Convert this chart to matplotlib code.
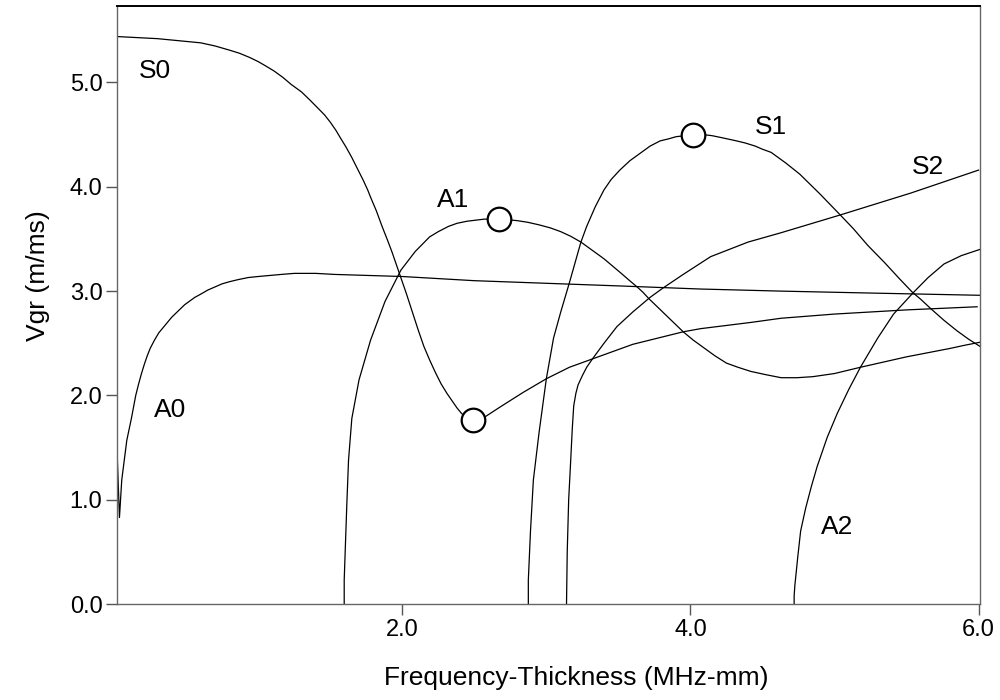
import matplotlib
matplotlib.use("Agg")
import matplotlib.pyplot as plt

plt.rcParams['font.family'] = ['Liberation Sans', 'DejaVu Sans']

# Lamb-wave group velocity dispersion curves (frequency-thickness in MHz-mm, Vgr in m/ms)
s0_fd = [0.02, 0.30, 0.45, 0.60, 0.70, 0.80, 0.87, 0.94, 1.00, 1.05, 1.11, 1.17, 1.23, 1.30,
         1.36, 1.41, 1.46, 1.50, 1.54, 1.57, 1.61, 1.65, 1.69, 1.73, 1.76, 1.78, 1.82, 1.86,
         1.90, 1.93, 1.96, 1.99, 2.03, 2.07, 2.11, 2.15, 2.19, 2.23, 2.27, 2.31, 2.35, 2.38,
         2.41, 2.44, 2.47, 2.49, 2.53, 2.58, 2.68, 2.84, 3.00, 3.16, 3.32, 3.60, 3.95, 4.07,
         4.42, 4.63, 5.00, 5.50, 5.99]
s0_vg = [5.44, 5.42, 5.40, 5.38, 5.35, 5.31, 5.28, 5.24, 5.20, 5.16, 5.11, 5.05, 4.98, 4.91,
         4.83, 4.76, 4.69, 4.62, 4.54, 4.47, 4.38, 4.28, 4.17, 4.06, 3.97, 3.90, 3.77, 3.62,
         3.48, 3.37, 3.25, 3.13, 2.97, 2.80, 2.63, 2.47, 2.34, 2.22, 2.11, 2.02, 1.94, 1.88,
         1.83, 1.79, 1.77, 1.76, 1.77, 1.80, 1.89, 2.03, 2.16, 2.27, 2.35, 2.49, 2.61, 2.64,
         2.70, 2.74, 2.78, 2.82, 2.85]

a0_fd = [0.02, 0.037, 0.053, 0.088, 0.12, 0.15, 0.17, 0.19, 0.21, 0.23, 0.25, 0.28, 0.31,
         0.34, 0.37, 0.40, 0.43, 0.46, 0.49, 0.52, 0.56, 0.60, 0.65, 0.70, 0.75, 0.80, 0.86,
         0.93, 1.00, 1.16, 1.25, 1.40, 1.53, 2.00, 2.50, 3.10, 3.50, 4.07, 4.63, 5.30, 6.01]
a0_vg = [1.48, 0.83, 1.19, 1.57, 1.78, 2.00, 2.11, 2.21, 2.30, 2.38, 2.45, 2.53, 2.60,
         2.65, 2.70, 2.75, 2.79, 2.83, 2.87, 2.90, 2.94, 2.97, 3.01, 3.04, 3.07, 3.09, 3.11,
         3.13, 3.14, 3.16, 3.17, 3.17, 3.16, 3.14, 3.10, 3.07, 3.05, 3.02, 3.00, 2.98, 2.96]

a1_fd = [1.597, 1.597, 1.605, 1.615, 1.627, 1.65, 1.70, 1.78, 1.88, 1.99, 2.09, 2.19, 2.25,
         2.32, 2.38, 2.45, 2.51, 2.57, 2.62, 2.67, 2.73, 2.80, 2.87, 2.95, 3.03, 3.10, 3.17,
         3.24, 3.32, 3.40, 3.46, 3.52, 3.57, 3.63, 3.67, 3.71, 3.77, 3.83, 3.89, 3.95, 4.02,
         4.10, 4.17, 4.25, 4.33, 4.42, 4.52, 4.63, 4.74, 4.85, 5.00, 5.18, 5.34, 5.50, 5.65,
         5.80, 5.90, 6.01]
a1_vg = [0.00, 0.23, 0.55, 0.95, 1.38, 1.78, 2.15, 2.53, 2.90, 3.20, 3.38, 3.52, 3.57,
         3.62, 3.65, 3.67, 3.68, 3.69, 3.69, 3.69, 3.685, 3.675, 3.66, 3.635, 3.605, 3.57, 3.525,
         3.47, 3.39, 3.31, 3.24, 3.17, 3.11, 3.04, 2.99, 2.93, 2.85, 2.77, 2.69, 2.61, 2.53,
         2.45, 2.38, 2.31, 2.27, 2.23, 2.20, 2.17, 2.17, 2.18, 2.21, 2.27, 2.32, 2.37, 2.41,
         2.45, 2.48, 2.51]

s1_fd = [2.875, 2.875, 2.89, 2.91, 2.95, 3.00, 3.05, 3.10, 3.16, 3.24, 3.28, 3.34, 3.40,
         3.45, 3.51, 3.58, 3.65, 3.72, 3.79, 3.85, 3.90, 3.96, 4.02, 4.09, 4.15, 4.22, 4.32,
         4.38, 4.45, 4.50, 4.56, 4.66, 4.76, 4.90, 5.04, 5.13, 5.23, 5.35, 5.45, 5.54, 5.60,
         5.67, 5.76, 5.85, 5.93, 6.01]
s1_vg = [0.00, 0.23, 0.70, 1.19, 1.65, 2.16, 2.55, 2.80, 3.08, 3.47, 3.62, 3.81, 3.97,
         4.07, 4.16, 4.25, 4.32, 4.39, 4.44, 4.46, 4.48, 4.49, 4.50, 4.50, 4.49, 4.47, 4.44,
         4.42, 4.39, 4.36, 4.33, 4.23, 4.12, 3.93, 3.73, 3.60, 3.44, 3.27, 3.12, 2.99, 2.92,
         2.83, 2.72, 2.62, 2.54, 2.47]

s2_fd = [3.14, 3.145, 3.155, 3.167, 3.18, 3.19, 3.205, 3.22, 3.25, 3.28, 3.32, 3.40, 3.49,
         3.60, 3.72, 3.81, 3.95, 4.14, 4.40, 4.63, 5.04, 5.53, 6.00]
s2_vg = [0.00, 0.50, 1.00, 1.32, 1.68, 1.90, 2.02, 2.10, 2.19, 2.27, 2.35, 2.50, 2.66,
         2.80, 2.94, 3.03, 3.16, 3.33, 3.47, 3.56, 3.73, 3.94, 4.16]

a2_fd = [4.72, 4.72, 4.725, 4.745, 4.765, 4.80, 4.84, 4.88, 4.95, 5.02, 5.10, 5.18, 5.30,
         5.41, 5.55, 5.65, 5.76, 5.88, 6.01]
a2_vg = [0.00, 0.08, 0.18, 0.45, 0.70, 0.92, 1.13, 1.32, 1.60, 1.83, 2.06, 2.27, 2.55,
         2.78, 2.99, 3.13, 3.26, 3.34, 3.40]

# Highlighted points (S0 minimum, A1 maximum, S1 maximum)
mark_fd = [2.49, 2.67, 4.02]
mark_vg = [1.76, 3.69, 4.50]

mode_names = ["S0", "A0", "A1", "S1", "S2", "A2"]
name_fd = [0.285, 0.39, 2.35, 4.56, 5.65, 5.02]
name_vg = [5.11, 1.86, 3.87, 4.57, 4.19, 0.735]

x_ticks = [2.0, 4.0, 6.0]
y_ticks = [0.0, 1.0, 2.0, 3.0, 4.0, 5.0]

fig = plt.figure(figsize=(10, 7), dpi=100)
ax = fig.add_axes([0.117, 0.137, 0.863, 0.854])

curves = [(s0_fd, s0_vg), (a0_fd, a0_vg), (a1_fd, a1_vg),
          (s1_fd, s1_vg), (s2_fd, s2_vg), (a2_fd, a2_vg)]
for fd, vg in curves:
    ax.plot(fd, vg, color="black", lw=0.9, solid_joinstyle="round")

ax.plot(mark_fd, mark_vg, linestyle="none", marker="o", ms=17,
        mfc="white", mec="black", mew=1.6, zorder=5)

for name, x, y in zip(mode_names, name_fd, name_vg):
    ax.text(x, y, name, fontsize=19, ha="center", va="center", color="black")

ax.set_xlim(0.02, 6.01)
ax.set_ylim(0.0, 5.73)
ax.set_xticks(x_ticks)
ax.set_xticklabels([f"{v:.1f}" for v in x_ticks])
ax.set_yticks(y_ticks)
ax.set_yticklabels([f"{v:.1f}" for v in y_ticks])

ax.tick_params(axis="both", direction="out", length=8, width=1.0,
               color="#555555", labelsize=17, pad=2.5)

for side in ("left", "bottom", "right"):
    ax.spines[side].set_color("#666666")
    ax.spines[side].set_linewidth(1.0)
ax.spines["top"].set_color("black")
ax.spines["top"].set_linewidth(1.4)

ax.set_xlabel("Frequency-Thickness (MHz-mm)", fontsize=19)
ax.set_ylabel("Vgr (m/ms)", fontsize=19)
ax.xaxis.set_label_coords(0.532, -0.103)
ax.yaxis.set_label_coords(-0.078, 0.549)

fig.savefig("out.png", dpi=100)
